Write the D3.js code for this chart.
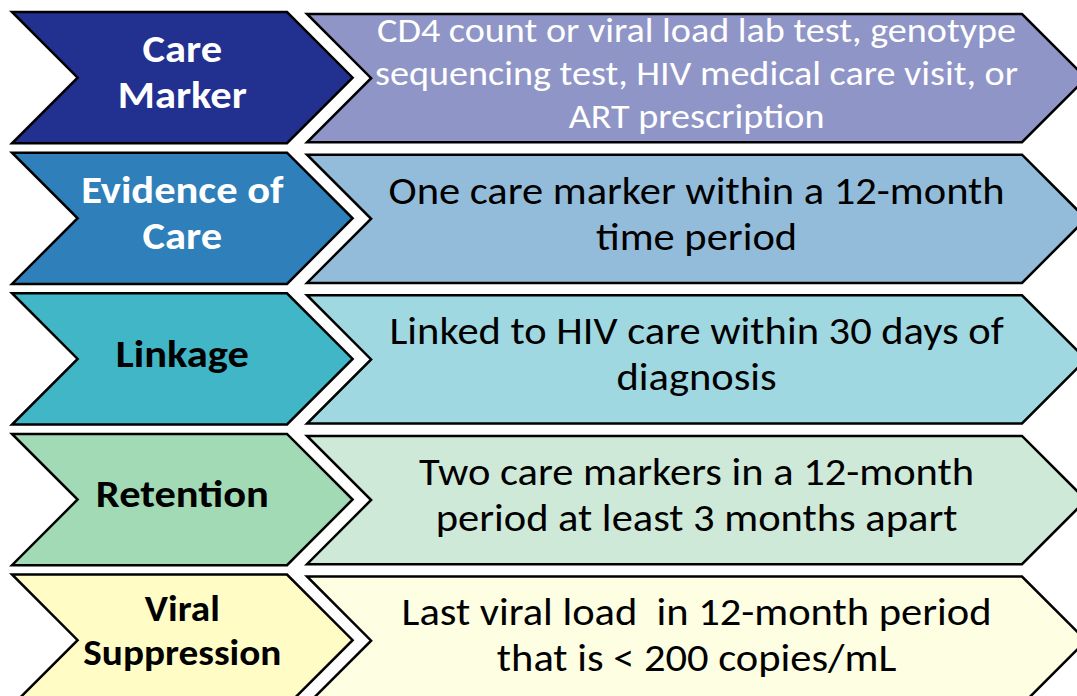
<!DOCTYPE html>
<html>
<head>
<meta charset="utf-8">
<script src="https://cdn.jsdelivr.net/npm/d3@7"></script>
<style>
  html, body { margin: 0; padding: 0; background: #ffffff; overflow: hidden; }
  svg { display: block; }
  text { font-family: Carlito, Lato, "Open Sans", sans-serif; }
</style>
</head>
<body>
<svg id="chart" width="1077" height="696"></svg>
<script>
// ---- data ----
const stages = ["Care Marker", "Evidence of Care", "Linkage", "Retention", "Viral Suppression"];
const stageLines = [["Care", "Marker"], ["Evidence of", "Care"], ["Linkage"], ["Retention"], ["Viral", "Suppression"]];
const definitions = [
  ["CD4 count or viral load lab test, genotype", "sequencing test, HIV medical care visit, or", "ART prescription"],
  ["One care marker within a 12-month", "time period"],
  ["Linked to HIV care within 30 days of", "diagnosis"],
  ["Two care markers in a 12-month", "period at least 3 months apart"],
  ["Last viral load  in 12-month period", "that is < 200 copies/mL"]
];

// ---- styles ----
const labelFill = ["#22308f", "#2e7fba", "#41b6c6", "#a1dab4", "#fffcc6"];
const defFill   = ["#8f95c7", "#93bcda", "#9fd8e0", "#cfe9d9", "#fefee3"];
const labelText = ["#ffffff", "#ffffff", "#000000", "#000000", "#000000"];
const defText   = ["#ffffff", "#000000", "#000000", "#000000", "#000000"];

const svg = d3.select("#chart");

const step = 138.75;
const y = d3.scaleBand().domain(stages).range([12, 12 + step * 5])
  .paddingInner(9.25 / step).paddingOuter(0).align(0);
const fillL = d3.scaleOrdinal().domain(stages).range(labelFill);
const fillR = d3.scaleOrdinal().domain(stages).range(defFill);
const textL = d3.scaleOrdinal().domain(stages).range(labelText);
const textR = d3.scaleOrdinal().domain(stages).range(defText);

const sx = 1.09;          // horizontal glyph stretch to match the reference
const Lx0 = 12, Lx1 = 287;    // left chevron
const Rx0 = 307, Rx1 = 1022;  // right pentagon

function chevron(x0, x1, top, h) {
  const d = h / 2;
  return `M${x0},${top} L${x1},${top} L${x1 + d},${top + d} L${x1},${top + h} L${x0},${top + h} L${x0 + d},${top + d} Z`;
}

const rows = svg.selectAll("g.row").data(stages).join("g").attr("class", "row");

rows.append("path")
  .attr("d", s => chevron(Rx0, Rx1, y(s) + 2, y.bandwidth() - 3))
  .attr("fill", s => fillR(s))
  .attr("stroke", "#000").attr("stroke-width", 2.5).attr("stroke-linejoin", "miter");

rows.append("path")
  .attr("d", s => chevron(Lx0, Lx1, y(s), y.bandwidth()))
  .attr("fill", s => fillL(s))
  .attr("stroke", "#000").attr("stroke-width", 2.5).attr("stroke-linejoin", "miter");

rows.each(function (s, i) {
  const g = d3.select(this);

  // left label
  const lines = stageLines[i];
  const fs = i === 4 ? 36 : 39;
  const lh = i === 4 ? 44 : 46;
  const cy = y(s) + y.bandwidth() / 2 - (i === 4 ? 4 : 0);
  const cx = (Lx0 + y.bandwidth() / 2 + Lx1) / 2;
  const t = g.append("text")
    .attr("text-anchor", "middle")
    .attr("font-weight", "bold")
    .attr("font-size", fs)
    .attr("fill", textL(s))
    .attr("transform", `translate(${cx},0) scale(${sx},1)`);
  lines.forEach((ln, k) => {
    t.append("tspan").attr("x", 0)
      .attr("y", cy + (k - (lines.length - 1) / 2) * lh + fs * 0.2)
      .text(ln);
  });

  // right definition
  const dl = definitions[i];
  const dfs = i === 0 ? 35 : 39;
  const dlh = i === 0 ? 43 : 46;
  const dcy = y(s) + 2 + (y.bandwidth() - 3) / 2;
  const dcx = (Rx0 + (y.bandwidth() - 3) / 2 + Rx1) / 2;
  const t2 = g.append("text")
    .attr("text-anchor", "middle")
    .attr("font-size", dfs)
    .attr("fill", textR(s))
    .attr("transform", `translate(${dcx},0) scale(${sx},1)`)
    .style("white-space", "pre");
  dl.forEach((ln, k) => {
    t2.append("tspan").attr("x", 0)
      .attr("y", dcy + (k - (dl.length - 1) / 2) * dlh + dfs * 0.2)
      .text(ln);
  });
});
</script>
</body>
</html>
